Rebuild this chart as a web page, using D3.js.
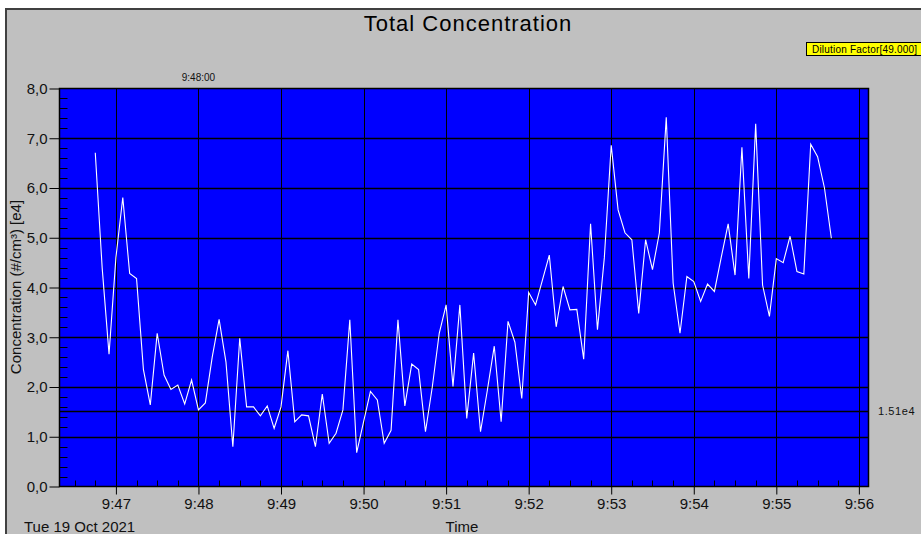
<!DOCTYPE html>
<html>
<head>
<meta charset="utf-8">
<script src="https://cdn.jsdelivr.net/npm/d3@7"></script>
<style>
  html, body { margin: 0; padding: 0; background: #fff; }
  svg { display: block; font-family: "Liberation Sans", Arial, sans-serif; }
</style>
</head>
<body>
<svg id="chart" width="921" height="534"></svg>
<script>
// ---- data ----
const times = [
  "9:46:45","9:46:50","9:46:55","9:47:00","9:47:05","9:47:10","9:47:15","9:47:20","9:47:25","9:47:30",
  "9:47:35","9:47:40","9:47:45","9:47:50","9:47:55","9:48:00","9:48:05","9:48:10","9:48:15","9:48:20",
  "9:48:25","9:48:30","9:48:35","9:48:40","9:48:45","9:48:50","9:48:55","9:49:00","9:49:05","9:49:10",
  "9:49:15","9:49:20","9:49:25","9:49:30","9:49:35","9:49:40","9:49:45","9:49:50","9:49:55","9:50:00",
  "9:50:05","9:50:10","9:50:15","9:50:20","9:50:25","9:50:30","9:50:35","9:50:40","9:50:45","9:50:50",
  "9:50:55","9:51:00","9:51:05","9:51:10","9:51:15","9:51:20","9:51:25","9:51:30","9:51:35","9:51:40",
  "9:51:45","9:51:50","9:51:55","9:52:00","9:52:05","9:52:10","9:52:15","9:52:20","9:52:25","9:52:30",
  "9:52:35","9:52:40","9:52:45","9:52:50","9:52:55","9:53:00","9:53:05","9:53:10","9:53:15","9:53:20",
  "9:53:25","9:53:30","9:53:35","9:53:40","9:53:45","9:53:50","9:53:55","9:54:00","9:54:05","9:54:10",
  "9:54:15","9:54:20","9:54:25","9:54:30","9:54:35","9:54:40","9:54:45","9:54:50","9:54:55","9:55:00",
  "9:55:05","9:55:10","9:55:15","9:55:20","9:55:25","9:55:30","9:55:35","9:55:40"
];
const concentration = [
  6.71,4.40,2.66,4.60,5.81,4.28,4.18,2.35,1.64,3.08,
  2.24,1.95,2.04,1.66,2.14,1.54,1.68,2.60,3.36,2.50,
  0.80,2.98,1.60,1.60,1.42,1.62,1.17,1.60,2.73,1.30,
  1.44,1.42,0.80,1.86,0.87,1.07,1.54,3.35,0.68,1.30,
  1.91,1.74,0.87,1.13,3.35,1.62,2.46,2.35,1.10,2.01,
  3.08,3.65,2.01,3.65,1.37,2.68,1.10,1.94,2.82,1.30,
  3.32,2.90,1.77,3.90,3.65,4.15,4.65,3.21,4.02,3.55,
  3.56,2.56,5.28,3.15,4.60,6.86,5.56,5.10,4.96,3.48,
  4.96,4.36,5.10,7.42,4.09,3.08,4.22,4.12,3.72,4.07,
  3.92,4.61,5.28,4.25,6.82,4.18,7.29,4.05,3.42,4.58,
  4.50,5.03,4.32,4.27,6.88,6.63,6.00,4.99
];
const timeDomain = ["9:46:19", "9:56:07"];
const yTicks = [0, 1, 2, 3, 4, 5, 6, 7, 8];
const gridValues = [1, 2, 3, 4, 5, 6, 7];
const thresholdValue = 1.51;
const thresholdLabel = "1.51e4";
const cursorTime = "9:48:00";
const titleText = "Total Concentration";
const dateText = "Tue 19 Oct 2021";
const xTitle = "Time";
const yTitle = "Concentration (#/cm³) [e4]";
const dilutionText = "Dilution Factor[49.000]";

// ---- layout ----
const parse = d3.timeParse("%H:%M:%S");
const svg = d3.select("#chart");
const L = 59.5, R = 868.5, T = 88.5, B = 486.5;

const x = d3.scaleTime().domain(timeDomain.map(parse)).range([L, R]);
const y = d3.scaleLinear().domain([0, 8]).range([B, T]);
const data = times.map((t, i) => ({ t: parse(t), v: concentration[i] }));
const px = v => Math.round(v) + 0.5;

// frame
svg.append("rect").attr("x", 0).attr("y", 0).attr("width", 921).attr("height", 534).attr("fill", "#fff");
svg.append("rect").attr("x", 5).attr("y", 8).attr("width", 916).attr("height", 526).attr("fill", "#c0c0c0");
svg.append("line").attr("x1", 5).attr("x2", 921).attr("y1", 9).attr("y2", 9).attr("stroke", "#404040").attr("stroke-width", 2);
svg.append("line").attr("x1", 6).attr("x2", 6).attr("y1", 8).attr("y2", 534).attr("stroke", "#404040").attr("stroke-width", 2);

// title
svg.append("text").attr("x", 468).attr("y", 31).attr("text-anchor", "middle")
  .attr("font-size", 22).attr("letter-spacing", 1).attr("fill", "#000").text(titleText);

// dilution box
svg.append("rect").attr("x", 806.5).attr("y", 42.5).attr("width", 120).attr("height", 13)
  .attr("fill", "#ffff00").attr("stroke", "#000").attr("stroke-width", 1);
svg.append("text").attr("x", 812).attr("y", 53).attr("font-size", 10).attr("letter-spacing", 0.2)
  .attr("fill", "#000").text(dilutionText);

// plot background
svg.append("rect").attr("x", L).attr("y", T).attr("width", R - L).attr("height", B - T)
  .attr("fill", "#0000ff");

// vertical grid
const minuteTicks = x.ticks(d3.timeMinute.every(1));
const gGrid = svg.append("g").attr("class", "grid");
minuteTicks.forEach(d => {
  gGrid.append("line")
    .attr("x1", px(x(d))).attr("x2", px(x(d)))
    .attr("y1", T).attr("y2", B).attr("stroke", "#000").attr("stroke-width", 1);
});
// horizontal grid
gridValues.forEach(v => {
  gGrid.append("line")
    .attr("x1", L).attr("x2", R)
    .attr("y1", px(y(v))).attr("y2", px(y(v)))
    .attr("stroke", "#000").attr("stroke-width", 1.3);
});
// threshold line
gGrid.append("line").attr("x1", L).attr("x2", R)
  .attr("y1", px(y(thresholdValue))).attr("y2", px(y(thresholdValue)))
  .attr("stroke", "#000").attr("stroke-width", 1.3);

// minor ticks inside
const minorY = d3.range(1, 40).map(i => i / 5).filter(v => Math.abs(v - Math.round(v)) > 0.01);
minorY.forEach(v => {
  gGrid.append("line").attr("x1", L).attr("x2", L + 8)
    .attr("y1", px(y(v))).attr("y2", px(y(v))).attr("stroke", "#000");
});
const minorX = x.ticks(d3.timeSecond.every(15)).filter(d => d.getSeconds() !== 0);
minorX.forEach(d => {
  gGrid.append("line")
    .attr("x1", px(x(d))).attr("x2", px(x(d)))
    .attr("y1", B - 6).attr("y2", B).attr("stroke", "#000");
});

// data line
svg.append("path").datum(data)
  .attr("d", d3.line().x(d => x(d.t)).y(d => y(d.v)))
  .attr("fill", "none").attr("stroke", "#ffffff").attr("stroke-width", 1.1);

// plot border
svg.append("rect").attr("x", L).attr("y", T).attr("width", R - L).attr("height", B - T)
  .attr("fill", "none").attr("stroke", "#000").attr("stroke-width", 1.5);

// axes
const yAxis = d3.axisLeft(y).tickValues(yTicks).tickSize(10).tickPadding(2)
  .tickFormat(d => d.toFixed(1).replace(".", ","));
const gy = svg.append("g").attr("transform", `translate(${L},0)`).call(yAxis);
gy.select(".domain").remove();
gy.selectAll("text").attr("font-size", 15).attr("fill", "#111").attr("font-family", "Liberation Sans, Arial, sans-serif");
gy.selectAll("line").attr("stroke", "#000");

const xAxis = d3.axisBottom(x).ticks(d3.timeMinute.every(1)).tickSize(8).tickPadding(4)
  .tickFormat(d3.timeFormat("%-H:%M"));
const gx = svg.append("g").attr("transform", `translate(0,${B})`).call(xAxis);
gx.select(".domain").remove();
gx.selectAll("text").attr("font-size", 15).attr("fill", "#111").attr("font-family", "Liberation Sans, Arial, sans-serif");
gx.selectAll("line").attr("stroke", "#000");

// texts
svg.append("text").attr("x", 24).attr("y", 532).attr("font-size", 15).attr("fill", "#111").text(dateText);
svg.append("text").attr("x", 462).attr("y", 532).attr("text-anchor", "middle").attr("font-size", 15).attr("fill", "#111").text(xTitle);
svg.append("text").attr("transform", "translate(21,287) rotate(-90)").attr("text-anchor", "middle")
  .attr("font-size", 15).attr("fill", "#111").text(yTitle);
svg.append("text").attr("x", x(parse(cursorTime))).attr("y", 81).attr("text-anchor", "middle")
  .attr("font-size", 10).attr("fill", "#111").text(cursorTime);
svg.append("text").attr("x", 878).attr("y", 415).attr("font-size", 11).attr("letter-spacing", 0.6)
  .attr("fill", "#111").text(thresholdLabel);
</script>
</body>
</html>
